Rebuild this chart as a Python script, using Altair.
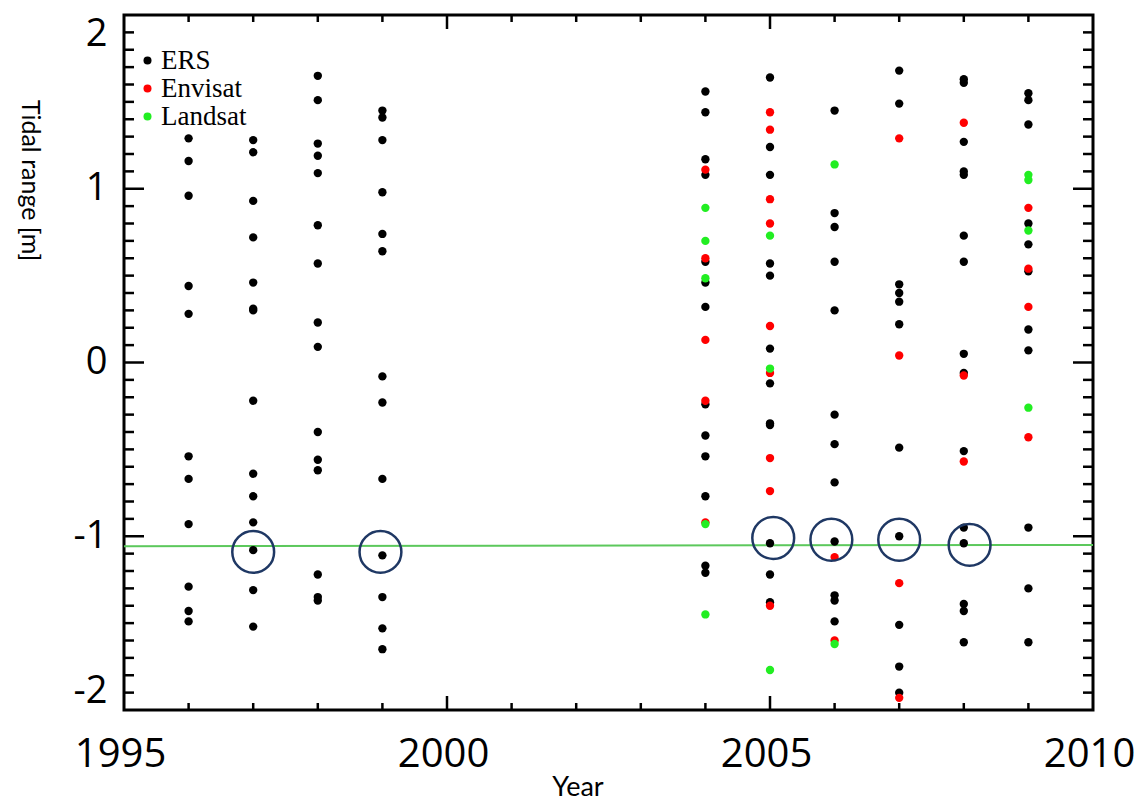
import altair as alt
import pandas as pd

# ---------------- data ----------------
years = [1996, 1997, 1998, 1999, 2004, 2005, 2006, 2007, 2008, 2009]

ers = {
    1996: [1.29, 1.16, 0.96, 0.44, 0.28, -0.54, -0.67, -0.93, -1.29, -1.43, -1.49],
    1997: [1.28, 1.21, 0.93, 0.72, 0.46, 0.31, 0.30, -0.22, -0.64, -0.77, -0.92, -1.08, -1.31, -1.52],
    1998: [1.65, 1.51, 1.26, 1.19, 1.09, 0.79, 0.57, 0.23, 0.09, -0.40, -0.56, -0.62, -1.22, -1.35, -1.37],
    1999: [1.45, 1.41, 1.28, 0.98, 0.74, 0.64, -0.08, -0.23, -0.67, -1.11, -1.35, -1.53, -1.65],
    2004: [1.56, 1.44, 1.17, 1.08, 0.58, 0.46, 0.32, -0.24, -0.42, -0.54, -0.77, -1.17, -1.21],
    2005: [1.64, 1.24, 1.08, 0.57, 0.50, 0.08, -0.12, -0.35, -0.36, -1.04, -1.22, -1.38],
    2006: [1.45, 0.86, 0.78, 0.58, 0.30, -0.30, -0.47, -0.69, -1.03, -1.34, -1.37, -1.49],
    2007: [1.68, 1.49, 0.45, 0.40, 0.35, 0.22, -0.49, -1.00, -1.51, -1.75, -1.90],
    2008: [1.63, 1.61, 1.27, 1.10, 1.08, 0.73, 0.58, 0.05, -0.06, -0.51, -0.95, -1.04, -1.39, -1.43, -1.61],
    2009: [1.55, 1.51, 1.37, 0.80, 0.68, 0.525, 0.19, 0.07, -0.95, -1.30, -1.61],
}
envisat = {
    2004: [1.11, 0.60, 0.13, -0.22, -0.92],
    2005: [1.44, 1.34, 0.94, 0.80, 0.21, -0.06, -0.55, -0.74, -1.40],
    2006: [-1.12, -1.60],
    2007: [1.29, 0.04, -1.27, -1.93],
    2008: [1.38, -0.075, -0.57],
    2009: [0.89, 0.54, 0.32, -0.43],
}
landsat = {
    2004: [0.89, 0.70, 0.485, -0.93, -1.45],
    2005: [0.73, -0.035, -1.77],
    2006: [1.14, -1.62],
    2009: [1.08, 1.05, 0.76, -0.26],
}

sensors = ["ERS", "Envisat", "Landsat"]
sensor_colors = ["#000000", "#ff0000", "#22ee22"]

# reference level line
line_x = [1995, 2010]
line_y = [-1.057, -1.050]

# highlighted (circled) acquisitions
circ_x = [1997.0, 1998.97, 2005.05, 2005.95, 2007.0, 2008.09]
circ_y = [-1.09, -1.09, -1.01, -1.02, -1.02, -1.05]

# axis ticks / labels
x_label_values = [1995, 2000, 2005, 2010]
y_label_values = [-2, -1, 0, 1, 2]
x_minor_ticks = [1996, 1997, 1998, 1999, 2001, 2002, 2003, 2004, 2006, 2007, 2008, 2009]
x_major_ticks = [2000, 2005]
y_minor_ticks = [round(-2 + 0.1 * i, 1) for i in range(41) if i % 10 != 0]
y_major_ticks = [-1, 0, 1]

# ---------------- tables ----------------
rows = []
for name, d in zip(sensors, [ers, envisat, landsat]):
    for yr, vals in d.items():
        for v in vals:
            rows.append({"year": yr, "value": v, "sensor": name})
pts = pd.DataFrame(rows)

W, H = 969, 695

xscale = alt.Scale(domain=[1995, 2010], nice=False, zero=False)
yscale = alt.Scale(domain=[-2, 2], nice=False, zero=False)

xaxis = alt.Axis(
    values=x_label_values, format="d", title="Year",
    labelFont="Open Sans", labelFontSize=40, labelColor="black",
    labelPadding=24, labelOffset=-4, labelFlush=False,
    ticks=False, tickSize=0, domain=False, grid=False,
    titleFont="Lato", titleFontSize=27, titleFontWeight="normal", titleColor="black",
    titleX=453.5, titleY=85, titleAlign="center", titleBaseline="alphabetic",
)
yaxis = alt.Axis(
    values=y_label_values, labelExpr="'' + datum.value", title="Tidal range [m]",
    labelFont="Open Sans", labelFontSize=38, labelColor="black",
    labelPadding=17, labelFlush=True,
    ticks=False, tickSize=0, domain=False, grid=False,
    titleFont="Lato", titleFontSize=25, titleFontWeight="normal", titleColor="black",
    titleAngle=90, titleX=-95, titleY=165, titleAlign="center", titleBaseline="middle",
)

X = alt.X("year:Q", scale=xscale, axis=xaxis)
Y = alt.Y("value:Q", scale=yscale, axis=yaxis)

tick_style = dict(color="black", strokeWidth=2.5)

def ydf(vals):
    return pd.DataFrame({"value": vals})

def xdf(vals):
    return pd.DataFrame({"year": vals})

left_minor = alt.Chart(ydf(y_minor_ticks)).mark_rule(**tick_style).encode(
    y=Y, x=alt.value(0), x2=alt.value(10))
left_major = alt.Chart(ydf(y_major_ticks)).mark_rule(**tick_style).encode(
    y=Y, x=alt.value(0), x2=alt.value(20))
right_minor = alt.Chart(ydf(y_minor_ticks)).mark_rule(**tick_style).encode(
    y=Y, x=alt.value(W), x2=alt.value(W - 10))
right_major = alt.Chart(ydf(y_major_ticks)).mark_rule(**tick_style).encode(
    y=Y, x=alt.value(W), x2=alt.value(W - 20))
bot_minor = alt.Chart(xdf(x_minor_ticks)).mark_rule(**tick_style).encode(
    x=X, y=alt.value(H), y2=alt.value(H - 7))
bot_major = alt.Chart(xdf(x_major_ticks)).mark_rule(**tick_style).encode(
    x=X, y=alt.value(H), y2=alt.value(H - 14))
top_minor = alt.Chart(xdf(x_minor_ticks)).mark_rule(**tick_style).encode(
    x=X, y=alt.value(0), y2=alt.value(7))
top_major = alt.Chart(xdf(x_major_ticks)).mark_rule(**tick_style).encode(
    x=X, y=alt.value(0), y2=alt.value(14))

level = alt.Chart(pd.DataFrame({"year": line_x, "value": line_y})).mark_line(
    color="#5cc85c", strokeWidth=2).encode(x=X, y=Y)

points = alt.Chart(pts).mark_circle(size=70, opacity=1).encode(
    x=X, y=Y,
    color=alt.Color(
        "sensor:N",
        scale=alt.Scale(domain=sensors, range=sensor_colors),
        sort=sensors,
        legend=alt.Legend(
            title=None, orient="none", legendX=10, legendY=32,
            labelFont="Liberation Serif", labelFontSize=27, labelColor="black",
            symbolType="circle", symbolSize=64, symbolStrokeWidth=0,
            labelOffset=0, rowPadding=0, padding=0,
        ),
    ),
)

circles = alt.Chart(pd.DataFrame({"year": circ_x, "value": circ_y})).mark_point(
    shape="circle", filled=False, size=1750, stroke="#1f3864", strokeWidth=2.5, opacity=1
).encode(x=X, y=Y)

chart = alt.layer(
    left_minor, left_major, right_minor, right_major,
    bot_minor, bot_major, top_minor, top_major,
    level, points, circles,
).properties(
    width=W, height=H,
    autosize=alt.AutoSizeParams(type="none"),
    padding={"left": 124, "top": 15, "right": 52, "bottom": 90},
    background="white",
).configure_view(stroke="black", strokeWidth=3)

chart.save("out.html", embed_options={"renderer": "svg", "actions": False})
